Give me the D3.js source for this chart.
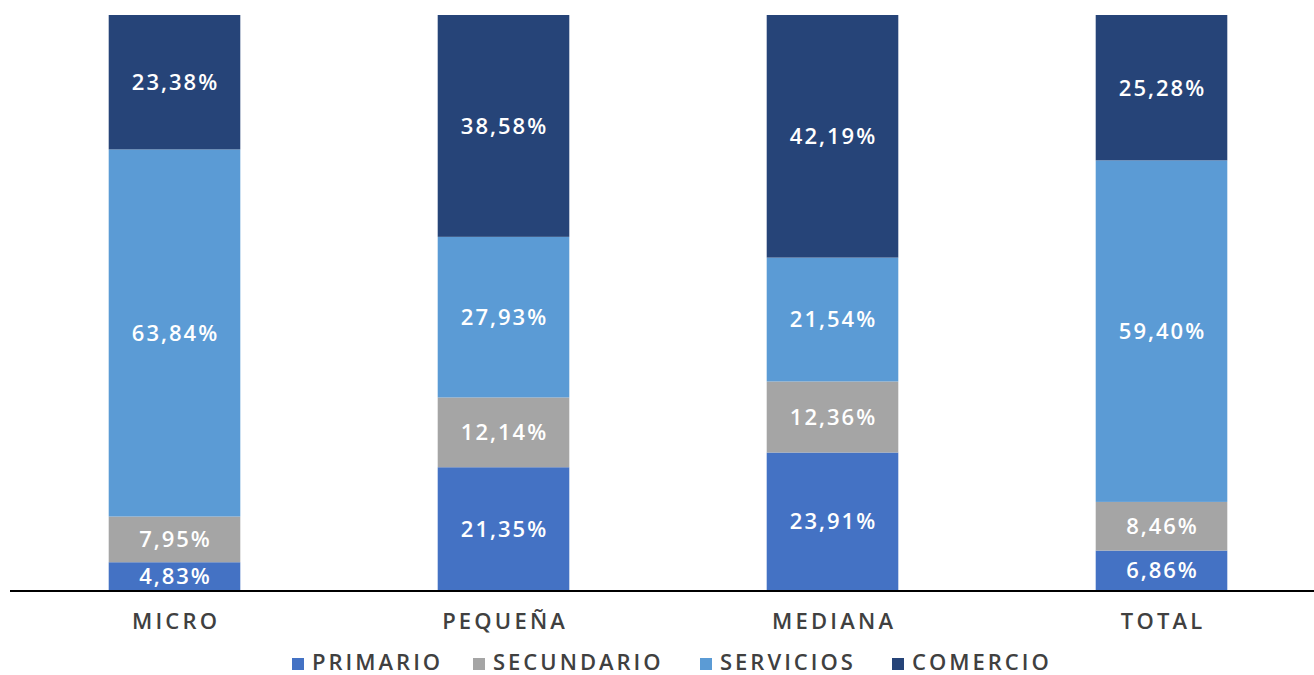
<!DOCTYPE html>
<html>
<head>
<meta charset="utf-8">
<script src="https://cdn.jsdelivr.net/npm/d3@7"></script>
<style>
  body { margin: 0; background: #fff; }
  svg text { font-family: "Open Sans", sans-serif; }
</style>
</head>
<body>
<svg id="chart" width="1314" height="675"></svg>
<script>
// data
const categories = ["MICRO", "PEQUEÑA", "MEDIANA", "TOTAL"];
const seriesNames = ["PRIMARIO", "SECUNDARIO", "SERVICIOS", "COMERCIO"];
const primario = [4.83, 21.35, 23.91, 6.86];
const secundario = [7.95, 12.14, 12.36, 8.46];
const servicios = [63.84, 27.93, 21.54, 59.40];
const comercio = [23.38, 38.58, 42.19, 25.28];
const colors = ["#4472C4", "#A5A5A5", "#5B9BD5", "#264478"];

const table = categories.map((c, i) => ({
  cat: c,
  PRIMARIO: primario[i],
  SECUNDARIO: secundario[i],
  SERVICIOS: servicios[i],
  COMERCIO: comercio[i]
}));

const svg = d3.select("#chart");
const baseY = 590, topY = 15;

const x = d3.scaleBand()
  .domain(categories)
  .range([10, 1326])
  .paddingInner(0.6)
  .paddingOuter(0.3);

const y = d3.scaleLinear()
  .domain([0, 100])
  .range([baseY, topY]);

const color = d3.scaleOrdinal().domain(seriesNames).range(colors);

const stacked = d3.stack().keys(seriesNames)(table);

const fmt = v => v.toFixed(2).replace(".", ",") + "%";

const layers = svg.selectAll("g.layer")
  .data(stacked)
  .enter()
  .append("g")
  .attr("class", "layer")
  .attr("fill", d => color(d.key));

layers.selectAll("rect")
  .data(d => d)
  .enter()
  .append("rect")
  .attr("x", d => x(d.data.cat))
  .attr("width", x.bandwidth())
  .attr("y", d => y(d[1]))
  .attr("height", d => y(d[0]) - y(d[1]));

layers.selectAll("text")
  .data(d => d.map(p => ({ p, key: d.key })))
  .enter()
  .append("text")
  .attr("x", d => x(d.p.data.cat) + x.bandwidth() / 2 + 1)
  .attr("y", d => (y(d.p[0]) + y(d.p[1])) / 2)
  .attr("dy", "0.36em")
  .attr("text-anchor", "middle")
  .attr("fill", "#fff")
  .attr("font-size", 22)
  .attr("font-weight", 600)
  .attr("letter-spacing", 2)
  .text(d => fmt(d.p.data[d.key]));

// axis
const axisB = d3.axisBottom(x).tickSize(0).tickPadding(23);
const ax = svg.append("g")
  .attr("transform", `translate(0,${baseY})`)
  .call(axisB);
ax.select(".domain").remove();
ax.selectAll("text")
  .attr("font-size", 22)
  .attr("font-weight", 600)
  .attr("fill", "#404040")
  .attr("letter-spacing", 3.2)
  .attr("dx", 1.6)
  .style("font-family", "'Open Sans', sans-serif");

svg.append("line")
  .attr("x1", 10).attr("x2", 1314)
  .attr("y1", baseY + 1).attr("y2", baseY + 1)
  .attr("stroke", "#000")
  .attr("stroke-width", 2);

// legend
const legendX = [292, 473, 700, 892];
const legend = svg.selectAll("g.legend")
  .data(seriesNames)
  .enter()
  .append("g")
  .attr("class", "legend")
  .attr("transform", (d, i) => `translate(${legendX[i]},662)`);

legend.append("rect")
  .attr("x", 0).attr("y", -4)
  .attr("width", 12).attr("height", 12)
  .attr("fill", d => color(d));

legend.append("text")
  .attr("x", 20)
  .attr("dy", "0.36em")
  .attr("font-size", 22)
  .attr("font-weight", 600)
  .attr("fill", "#404040")
  .attr("letter-spacing", 3)
  .text(d => d);
</script>
</body>
</html>
